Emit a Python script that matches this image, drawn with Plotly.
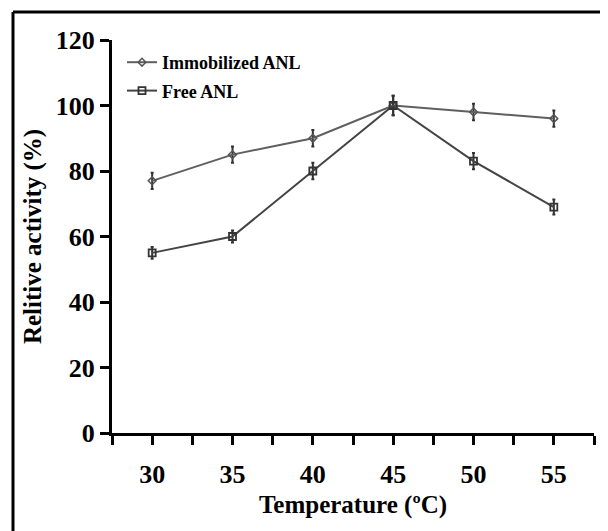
import plotly.graph_objects as go

temperature = [30, 35, 40, 45, 50, 55]
immobilized = [77, 85, 90, 100, 98, 96]
immobilized_err = [2.5, 2.5, 2.5, 3, 2.5, 2.5]
free = [55, 60, 80, 100, 83, 69]
free_err = [1.8, 1.8, 2.5, 3, 2.5, 2.3]

x_ticks_all = [27.5, 30, 32.5, 35, 37.5, 40, 42.5, 45, 47.5, 50, 52.5, 55, 57.5]
x_tick_text = ["", "30", "", "35", "", "40", "", "45", "", "50", "", "55", ""]
y_ticks = [0, 20, 40, 60, 80, 100, 120]

FONT = "Liberation Serif"

fig = go.Figure()
fig.add_trace(go.Scatter(
    x=temperature, y=immobilized, name="<b>Immobilized ANL</b>",
    mode="lines+markers", legendgroup="a",
    line=dict(color="#5f5f5f", width=2),
    marker=dict(symbol="diamond-open", size=6, color="#555555", line=dict(width=1.5)),
    error_y=dict(type="data", array=immobilized_err, color="#333333", thickness=2, width=1.5),
))
fig.add_trace(go.Scatter(
    x=temperature, y=free, name="<b>Free ANL</b>",
    mode="lines+markers", legendgroup="b",
    line=dict(color="#444444", width=2),
    marker=dict(symbol="square-open", size=7, color="#333333", line=dict(width=1.8)),
    error_y=dict(type="data", array=free_err, color="#333333", thickness=2, width=1.5),
))

# page has an 8px body margin, so figure coords = page coords - 8
W, H = 600, 523
L, R, T, B = 104, 14, 32, 98
pw, ph = W - L - R, H - T - B

def px_x(p):
    return (p - L) / pw

def px_y(p):
    return (H - B - p) / ph

frame_x = px_x(5)
frame_y = px_y(4)

fig.update_layout(
    width=W, height=H,
    margin=dict(l=L, r=R, t=T, b=B, autoexpand=False),
    paper_bgcolor="white", plot_bgcolor="white",
    font=dict(family=FONT, color="black", size=22),
    showlegend=True,
    legend=dict(
        x=px_x(114), y=px_y(36), xanchor="left", yanchor="top",
        font=dict(family=FONT, size=18, color="black"),
        bgcolor="rgba(0,0,0,0)", itemwidth=30,
        traceorder="grouped", tracegroupgap=2,
    ),
    xaxis=dict(
        range=[27.5, 57.5], tickmode="array", tickvals=x_ticks_all, ticktext=x_tick_text,
        showgrid=False, zeroline=False, showline=True, linecolor="black", linewidth=3,
        ticks="outside", ticklen=9, tickwidth=2.5, tickcolor="black", ticklabelstandoff=7,
        tickfont=dict(family=FONT, size=26, color="black", weight="bold"),
        title=dict(text="<b>Temperature (ºC)</b>", font=dict(family=FONT, size=25), standoff=8),
    ),
    yaxis=dict(
        range=[0, 120], tickmode="array", tickvals=y_ticks,
        showgrid=False, zeroline=False, showline=True, linecolor="black", linewidth=3,
        ticks="outside", ticklen=9, tickwidth=2.5, tickcolor="black",
        tickfont=dict(family=FONT, size=26, color="black", weight="bold"),
        title=dict(text="<b>Relitive activity (%)</b>", font=dict(family=FONT, size=25), standoff=8),
    ),
    shapes=[
        dict(type="line", xref="paper", yref="paper", x0=frame_x, x1=1.2, y0=frame_y, y1=frame_y,
             line=dict(color="black", width=3)),
        dict(type="line", xref="paper", yref="paper", x0=frame_x, x1=frame_x, y0=frame_y, y1=-0.4,
             line=dict(color="black", width=3)),
    ],
)

fig.write_html("out.html")
